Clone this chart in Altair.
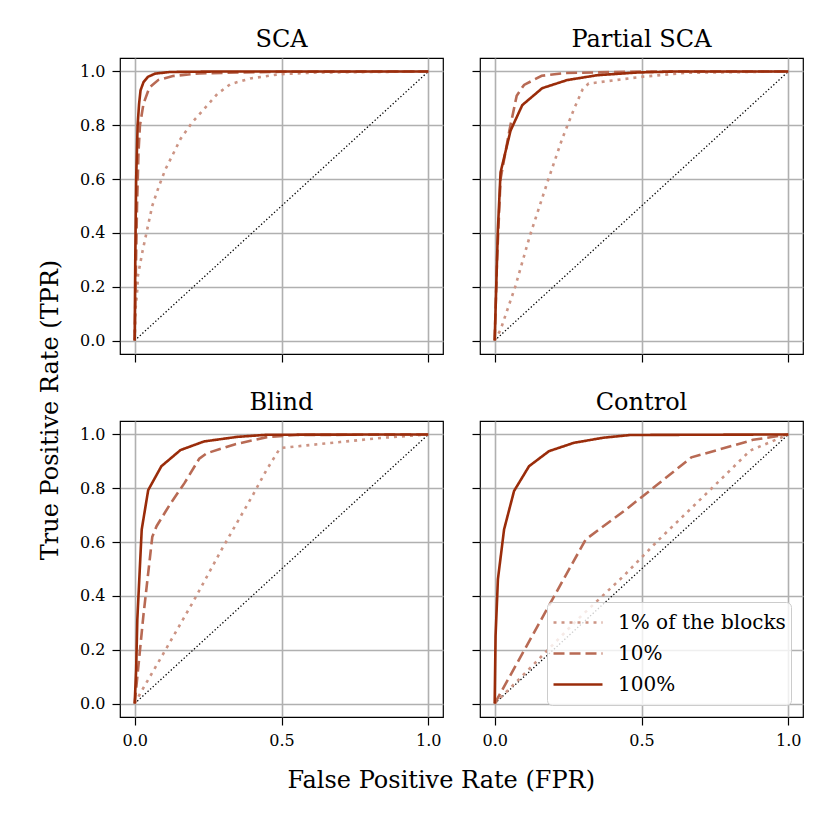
import altair as alt
import pandas as pd

FONT = "DejaVu Serif"
SERIES = ["1% of the blocks", "10%", "100%"]
COLORS = ["#cc9484", "#b86a54", "#9a2c0a"]
DASHES = [[3, 5], [11, 5], [1, 0]]

diag_vals = [0.0, 1.0]
x_ticks = [0.0, 0.5, 1.0]
y_ticks = [0.0, 0.2, 0.4, 0.6, 0.8, 1.0]

# SCA
sca_fpr_1 = [0.0, 0.003, 0.009, 0.011, 0.026, 0.043, 0.06, 0.083, 0.105, 0.128, 0.156, 0.196, 0.236, 0.281, 0.326, 0.394, 0.496, 0.62, 1.0]
sca_tpr_1 = [0.0, 0.118, 0.19, 0.241, 0.328, 0.415, 0.501, 0.575, 0.637, 0.687, 0.749, 0.811, 0.86, 0.916, 0.953, 0.974, 0.99, 0.996, 1.0]
sca_fpr_10 = [0.0, 0.003, 0.008, 0.013, 0.018, 0.03, 0.05, 0.08, 0.13, 0.22, 0.5, 1.0]
sca_tpr_10 = [0.0, 0.2, 0.5, 0.7, 0.8, 0.88, 0.94, 0.968, 0.983, 0.993, 0.999, 1.0]
sca_fpr_100 = [0.0, 0.002, 0.005, 0.01, 0.015, 0.02, 0.03, 0.045, 0.07, 0.12, 0.3, 1.0]
sca_tpr_100 = [0.0, 0.3, 0.6, 0.8, 0.88, 0.93, 0.96, 0.98, 0.992, 0.998, 1.0, 1.0]

# Partial SCA
psca_fpr_1 = [0.0, 0.02, 0.07, 0.12, 0.18, 0.23, 0.27, 0.3, 0.32, 0.5, 0.65, 1.0]
psca_tpr_1 = [0.0, 0.04, 0.2, 0.39, 0.59, 0.75, 0.86, 0.935, 0.955, 0.98, 0.995, 1.0]
psca_fpr_10 = [0.0, 0.008, 0.02, 0.05, 0.075, 0.1, 0.16, 0.24, 0.5, 1.0]
psca_tpr_10 = [0.0, 0.3, 0.6, 0.78, 0.91, 0.95, 0.984, 0.994, 1.0, 1.0]
psca_fpr_100 = [0.0, 0.005, 0.011, 0.02, 0.054, 0.094, 0.162, 0.247, 0.349, 0.485, 0.62, 1.0]
psca_tpr_100 = [0.0, 0.19, 0.415, 0.625, 0.78, 0.875, 0.938, 0.968, 0.986, 0.996, 1.0, 1.0]

# Blind
blind_fpr_1 = [0.0, 0.02, 0.1, 0.2, 0.3, 0.4, 0.45, 0.49, 0.5, 0.7, 0.85, 1.0]
blind_tpr_1 = [0.0, 0.04, 0.19, 0.38, 0.58, 0.77, 0.87, 0.94, 0.95, 0.972, 0.988, 1.0]
blind_fpr_10 = [0.0, 0.03, 0.06, 0.075, 0.12, 0.17, 0.22, 0.245, 0.34, 0.45, 0.55, 1.0]
blind_tpr_10 = [0.0, 0.33, 0.62, 0.66, 0.74, 0.82, 0.91, 0.93, 0.963, 0.99, 0.998, 1.0]
blind_fpr_100 = [0.0, 0.005, 0.009, 0.024, 0.046, 0.091, 0.156, 0.236, 0.349, 0.451, 1.0]
blind_tpr_100 = [0.0, 0.127, 0.313, 0.647, 0.793, 0.882, 0.942, 0.974, 0.991, 0.999, 1.0]

# Control
ctrl_fpr_1 = [0.0, 0.11, 0.28, 0.44, 0.56, 0.73, 0.87, 1.0]
ctrl_tpr_1 = [0.0, 0.12, 0.31, 0.475, 0.61, 0.79, 0.94, 1.0]
ctrl_fpr_10 = [0.0, 0.31, 0.44, 0.55, 0.67, 0.8, 0.88, 1.0]
ctrl_tpr_10 = [0.0, 0.61, 0.715, 0.81, 0.915, 0.955, 0.98, 1.0]
ctrl_fpr_100 = [0.0, 0.003, 0.011, 0.032, 0.066, 0.117, 0.185, 0.27, 0.371, 0.462, 1.0]
ctrl_tpr_100 = [0.0, 0.251, 0.462, 0.647, 0.79, 0.882, 0.938, 0.969, 0.988, 0.998, 1.0]


def make_df(curves):
    rows = []
    for name, fx, ty in curves:
        for i, (a, b) in enumerate(zip(fx, ty)):
            rows.append({"series": name, "fpr": a, "tpr": b, "idx": i})
    return pd.DataFrame(rows)


def panel(title, curves, xlabels, ylabels, legend):
    df = make_df(curves)
    x = alt.X("fpr:Q",
              scale=alt.Scale(domain=[-0.05, 1.05], nice=False, zero=False),
              axis=alt.Axis(values=x_ticks, format=".1f", labels=xlabels, title=None))
    y = alt.Y("tpr:Q",
              scale=alt.Scale(domain=[-0.05, 1.05], nice=False, zero=False),
              axis=alt.Axis(values=y_ticks, format=".1f", labels=ylabels, title=None))
    diag = alt.Chart(pd.DataFrame({"fpr": diag_vals, "tpr": diag_vals})).mark_line(
        color="black", strokeWidth=1.3, strokeDash=[1.3, 2.2]).encode(x=x, y=y)
    if legend:
        leg = alt.Legend(title=None, orient="bottom-right", offset=12,
                         labelFont=FONT, labelFontSize=20, labelColor="black",
                         labelLimit=400, symbolType="stroke", symbolStrokeWidth=2.6,
                         symbolSize=2400, fillColor="rgba(255,255,255,0.8)",
                         strokeColor="#cccccc", cornerRadius=5, padding=5,
                         clipHeight=31, rowPadding=0, labelOffset=14)
        color = alt.Color("series:N", scale=alt.Scale(domain=SERIES, range=COLORS), legend=leg)
        dash = alt.StrokeDash("series:N", scale=alt.Scale(domain=SERIES, range=DASHES), legend=leg)
    else:
        color = alt.Color("series:N", scale=alt.Scale(domain=SERIES, range=COLORS), legend=None)
        dash = alt.StrokeDash("series:N", scale=alt.Scale(domain=SERIES, range=DASHES), legend=None)
    lines = alt.Chart(df).mark_line(strokeWidth=2.6).encode(
        x=x, y=y, color=color, strokeDash=dash, order="idx:Q")
    return alt.layer(diag, lines).properties(
        width=323, height=296,
        title=alt.TitleParams(title, fontSize=24, offset=6, font=FONT, fontWeight="normal"))


p1 = panel("SCA", [(SERIES[0], sca_fpr_1, sca_tpr_1), (SERIES[1], sca_fpr_10, sca_tpr_10),
                   (SERIES[2], sca_fpr_100, sca_tpr_100)], False, True, False)
p2 = panel("Partial SCA", [(SERIES[0], psca_fpr_1, psca_tpr_1), (SERIES[1], psca_fpr_10, psca_tpr_10),
                           (SERIES[2], psca_fpr_100, psca_tpr_100)], False, False, False)
p3 = panel("Blind", [(SERIES[0], blind_fpr_1, blind_tpr_1), (SERIES[1], blind_fpr_10, blind_tpr_10),
                     (SERIES[2], blind_fpr_100, blind_tpr_100)], True, True, False)
p4 = panel("Control", [(SERIES[0], ctrl_fpr_1, ctrl_tpr_1), (SERIES[1], ctrl_fpr_10, ctrl_tpr_10),
                       (SERIES[2], ctrl_fpr_100, ctrl_tpr_100)], True, False, True)

res = dict(color="independent", strokeDash="independent")
row1 = alt.hconcat(p1, p2, spacing=26).resolve_scale(**res).resolve_legend(**res)
row2 = alt.hconcat(p3, p4, spacing=26).resolve_scale(**res).resolve_legend(**res)
inner = alt.vconcat(row1, row2, spacing=26).resolve_scale(**res).resolve_legend(**res).properties(
    title=alt.TitleParams("False Positive Rate (FPR)", orient="bottom", anchor="middle",
                          fontSize=24, font=FONT, fontWeight="normal", offset=20))
chart = alt.hconcat(inner).resolve_scale(**res).resolve_legend(**res).properties(
    background="white",
    padding={"left": 30, "top": 19, "right": 5, "bottom": 5},
    title=alt.TitleParams("True Positive Rate (TPR)", orient="left", anchor="middle",
                          fontSize=24, font=FONT, fontWeight="normal", offset=16)
).configure_view(stroke="black", strokeWidth=1.2).configure_axis(
    grid=True, gridColor="#b0b0b0", gridWidth=1.6, domain=False,
    tickColor="black", tickWidth=1.2, tickSize=8,
    labelFont=FONT, labelFontSize=16, labelColor="black", labelPadding=7
)

chart.save("out.html", embed_options={"renderer": "svg", "actions": False})
